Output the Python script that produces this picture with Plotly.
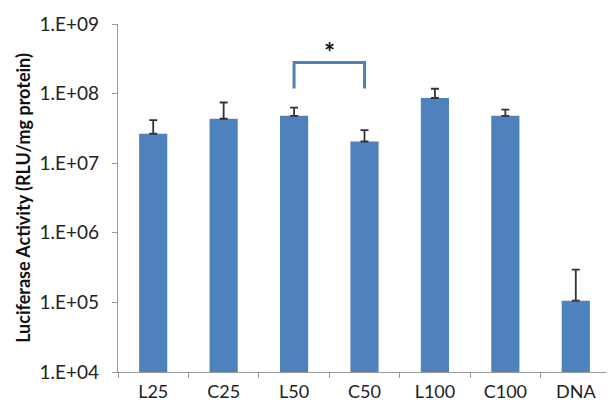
import numpy as np
import plotly.graph_objects as go

categories = ["L25", "C25", "L50", "C50", "L100", "C100", "DNA"]
values = [2.65e7, 4.35e7, 4.8e7, 2.05e7, 8.65e7, 4.8e7, 1.06e5]
errors_up = [1.5e7, 3.1e7, 1.5e7, 0.93e7, 3.1e7, 1.1e7, 1.9e5]

y_tickvals = [1e4, 1e5, 1e6, 1e7, 1e8, 1e9]
y_ticktext = ["1.E+04", "1.E+05", "1.E+06", "1.E+07", "1.E+08", "1.E+09"]

bracket_x = ["L50", "L50", "C50", "C50"]
bracket_y = [1.18e8, 2.8e8, 2.8e8, 1.18e8]
star_y = 4.0e8

FONT = "Lato, 'Open Sans', sans-serif"
BLUE = "#4F81BD"

fig = go.Figure()
fig.add_trace(go.Bar(
    x=categories, y=values,
    marker=dict(color=BLUE, line=dict(width=0)),
    error_y=dict(type="data", symmetric=False, array=errors_up,
                 arrayminus=[0] * len(values),
                 color="#333333", thickness=1.8, width=4),
    width=0.40,
))
fig.add_trace(go.Scatter(
    x=bracket_x, y=bracket_y, mode="lines",
    line=dict(color=BLUE, width=3), hoverinfo="skip",
))
fig.add_annotation(
    x=2.5, y=np.log10(star_y), xref="x", yref="y",
    text="<b>*</b>", showarrow=False,
    font=dict(family=FONT, size=26, color="#111111"),
)

fig.update_layout(
    width=614, height=406,
    margin=dict(l=110, r=11, t=16, b=42),
    paper_bgcolor="white", plot_bgcolor="white",
    showlegend=False,
    font=dict(family=FONT, size=19, color="#222222"),
)
fig.update_yaxes(
    type="log", range=[4, 9], automargin=False,
    tickvals=y_tickvals, ticktext=y_ticktext,
    showgrid=False, zeroline=False,
    showline=True, linecolor="#9a9a9a", linewidth=1.3,
    ticks="outside", ticklen=5, tickcolor="#9a9a9a",
    ticklabelstandoff=9,
    tickfont=dict(family=FONT, size=19, color="#222222"),
    title=dict(text="<b>Luciferase Activity (RLU/mg protein)</b>",
               font=dict(family=FONT, size=18, color="#111111"), standoff=4),
)
fig.update_xaxes(
    type="category", automargin=False,
    showgrid=False, showline=True, linecolor="#9a9a9a", linewidth=1.3,
    ticks="outside", ticklen=5, tickcolor="#9a9a9a", tickson="boundaries",
    ticklabelstandoff=3,
    tickfont=dict(family=FONT, size=18, color="#222222"),
    range=[-0.5, 6.5],
)

fig.write_html("out.html")
